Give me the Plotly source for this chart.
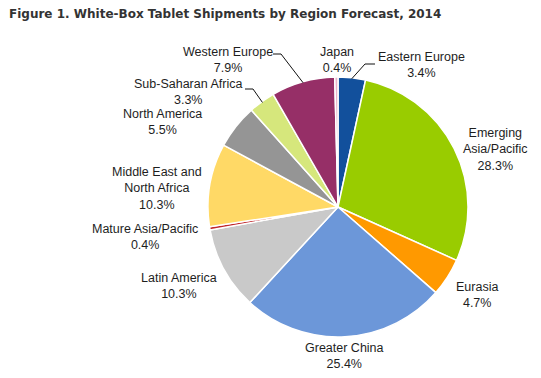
import math
import plotly.graph_objects as go

# ---- data ----
regions = ["Eastern Europe", "Emerging Asia/Pacific", "Eurasia", "Greater China",
           "Latin America", "Mature Asia/Pacific", "Middle East and North Africa",
           "North America", "Sub-Saharan Africa", "Western Europe", "Japan"]
shares = [3.4, 28.3, 4.7, 25.4, 10.3, 0.4, 10.3, 5.5, 3.3, 7.9, 0.4]
label_texts = ["Eastern Europe", "Emerging<br>Asia/Pacific", "Eurasia", "Greater China",
               "Latin America", "Mature Asia/Pacific", "Middle East and<br>North Africa",
               "North America", "Sub-Saharan Africa", "Western Europe", "Japan"]
colors = ["#12509C", "#99CC00", "#FF9900", "#6C97D9", "#C9C9C9", "#C0282D",
          "#FFD966", "#959595", "#D6E77C", "#962F67", "#EBB3C9"]

W, H = 541, 378
OFF = 8  # page body margin offset (screen px = figure px + OFF)
CX, CY, R = 338, 207, 130  # pie centre / radius in screen pixels

# label text positions (screen pixels, centre of text block)
label_pos = {
    "Eastern Europe": (421, 65),
    "Emerging Asia/Pacific": (495, 149),
    "Eurasia": (477, 295),
    "Greater China": (344, 356),
    "Latin America": (179, 286),
    "Mature Asia/Pacific": (145, 237),
    "Middle East and North Africa": (157, 188),
    "North America": (162, 122),
    "Sub-Saharan Africa": (188, 92),
    "Western Europe": (228, 60),
    "Japan": (337, 60),
}
# leader line start and elbow (screen pixels); end on slice edge computed from data
leaders = {
    "Western Europe": [(273, 54), (281, 54)],
    "Sub-Saharan Africa": [(245, 89), (253, 89)],
    "Eastern Europe": [(375, 64), (365, 64)],
}


def px(x):
    return (x - OFF) / W


def py(y):
    return 1 - (y - OFF) / H


fig = go.Figure(go.Pie(
    labels=regions, values=shares, sort=False, direction="clockwise", rotation=0,
    marker=dict(colors=colors, line=dict(color="white", width=1.5)),
    textinfo="none", showlegend=False, automargin=False,
    domain=dict(x=[px(CX - R), px(CX + R)], y=[py(CY + R), py(CY - R)]),
))

total = sum(shares)
cum = 0.0
mid_angle = {}
for name, v in zip(regions, shares):
    mid_angle[name] = (cum + v / 2) / total * 2 * math.pi
    cum += v

annotations = []
for name, txt, v in zip(regions, label_texts, shares):
    x, y = label_pos[name]
    annotations.append(dict(
        x=px(x), y=py(y), xref="paper", yref="paper", showarrow=False,
        text=f"{txt}<br>{v:.1f}%", xanchor="center", yanchor="middle",
        font=dict(family="Arial, Liberation Sans, sans-serif", size=12.5, color="#1e1e1e"),
    ))

shapes = []
for name, pts in leaders.items():
    a = mid_angle[name]
    ex = CX + (R - 1) * math.sin(a)
    ey = CY - (R - 1) * math.cos(a)
    path_pts = pts + [(ex, ey)]
    d = "M " + " L ".join(f"{px(x)},{py(y)}" for x, y in path_pts)
    shapes.append(dict(type="path", path=d, xref="paper", yref="paper",
                       line=dict(color="#111111", width=1)))

annotations.append(dict(
    x=px(7), y=py(14), xref="paper", yref="paper", showarrow=False,
    text="<b>Figure 1. White-Box Tablet Shipments by Region Forecast, 2014</b>",
    xanchor="left", yanchor="middle",
    font=dict(family="DejaVu Sans, Verdana, sans-serif", size=12, color="#333333"),
))

fig.update_layout(
    width=W, height=H, margin=dict(l=0, r=0, t=0, b=0),
    paper_bgcolor="white", plot_bgcolor="white",
    annotations=annotations, shapes=shapes,
)

fig.write_html("out.html")
